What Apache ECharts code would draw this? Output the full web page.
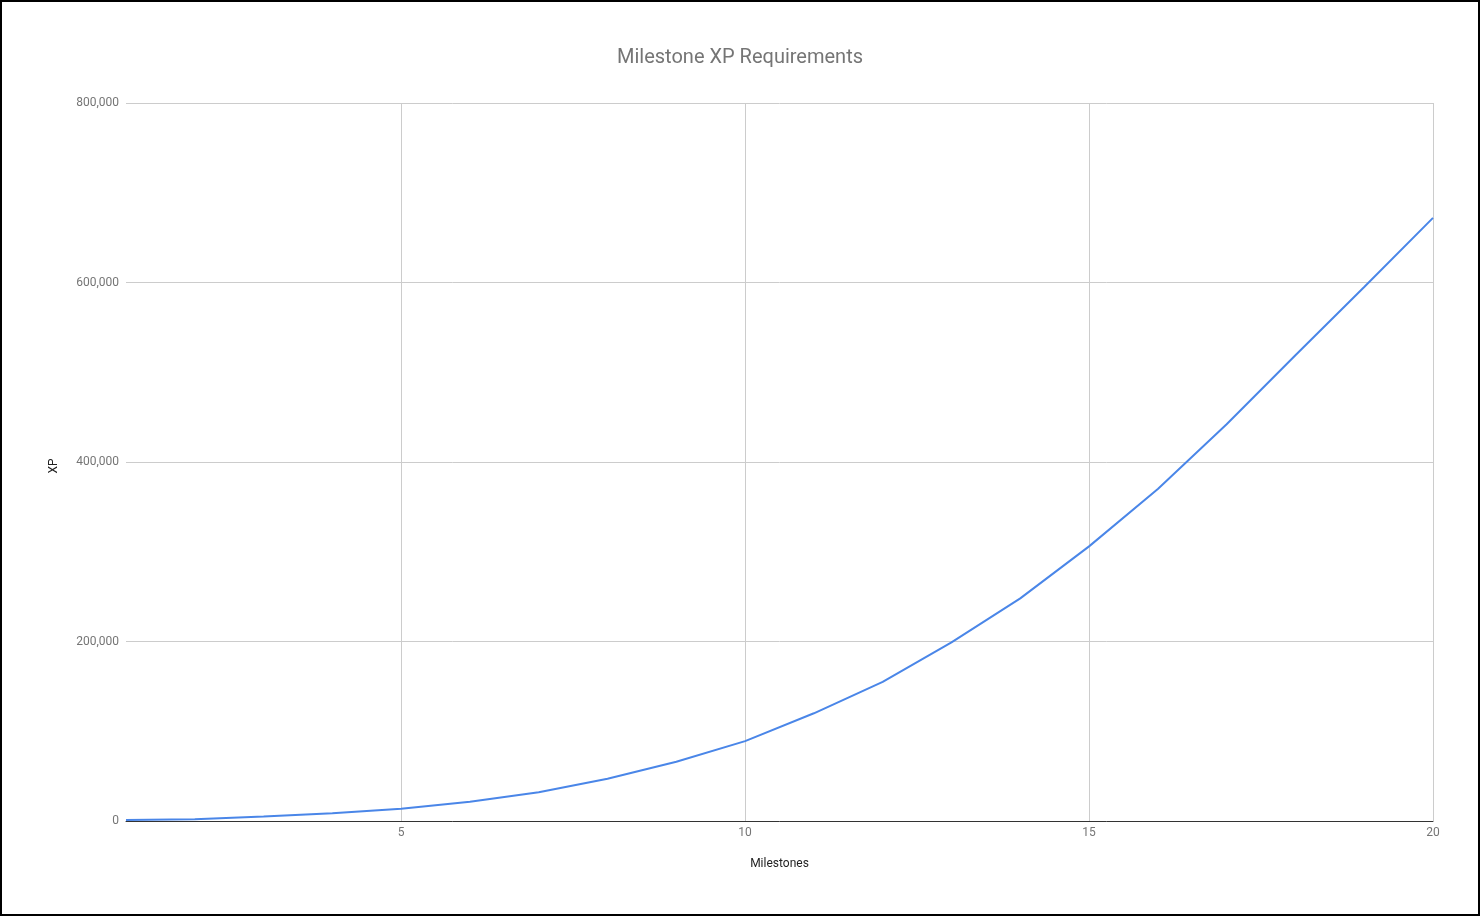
<!DOCTYPE html>
<html>
<head>
<meta charset="utf-8">
<script src="https://cdn.jsdelivr.net/npm/echarts@6/dist/echarts.min.js"></script>
<style>
html,body{margin:0;padding:0;background:#fff;}
#chart{width:1480px;height:916px;box-sizing:border-box;border:2px solid #000;}
</style>
</head>
<body>
<div id="chart"></div>
<script>
const milestones = [1,2,3,4,5,6,7,8,9,10,11,12,13,14,15,16,17,18,19,20];
const xpValues = [1000,2000,5000,8500,13700,21500,32000,47000,66000,89000,120000,155000,199000,248000,306000,370000,442000,519000,595000,672000];
const xTickLabels = ['5','10','15','20'];
const yTicks = [0,200000,400000,600000,800000];

const chart = echarts.init(document.getElementById('chart'));
const showTick = (idx, val) => xTickLabels.indexOf(String(val)) >= 0;
chart.setOption({
  animation:false,
  title:{text:'Milestone XP Requirements',left:'center',top:41,
    textStyle:{fontFamily:'Roboto',fontSize:20,fontWeight:'normal',color:'#757575'}},
  grid:{left:124,right:45,top:101,bottom:93,containLabel:false},
  xAxis:{type:'category',data:milestones.map(String),boundaryGap:false,
    name:'Milestones',nameLocation:'middle',nameGap:37,
    nameTextStyle:{fontFamily:'Roboto',fontSize:12,color:'#222'},
    axisLine:{lineStyle:{color:'#333',width:1}},
    axisTick:{show:false},
    axisLabel:{interval:showTick,fontFamily:'Roboto',fontSize:12,color:'#757575',margin:6},
    splitLine:{show:true,interval:showTick,lineStyle:{color:'#cccccc',width:1}}},
  yAxis:{type:'value',min:yTicks[0],max:yTicks[yTicks.length-1],interval:200000,
    name:'XP',nameLocation:'middle',nameGap:66,
    nameTextStyle:{fontFamily:'Roboto',fontSize:12,color:'#222',padding:[0,8,0,0]},
    axisLine:{show:false},axisTick:{show:false},
    axisLabel:{fontFamily:'Roboto',fontSize:12,color:'#757575',margin:7,
      formatter:v=>v.toLocaleString('en-US')},
    splitLine:{lineStyle:{color:'#cccccc',width:1}}},
  series:[{type:'line',data:xpValues,showSymbol:false,smooth:false,
    lineStyle:{color:'#4a86e8',width:2},itemStyle:{color:'#4a86e8'}}]
});
</script>
</body>
</html>
